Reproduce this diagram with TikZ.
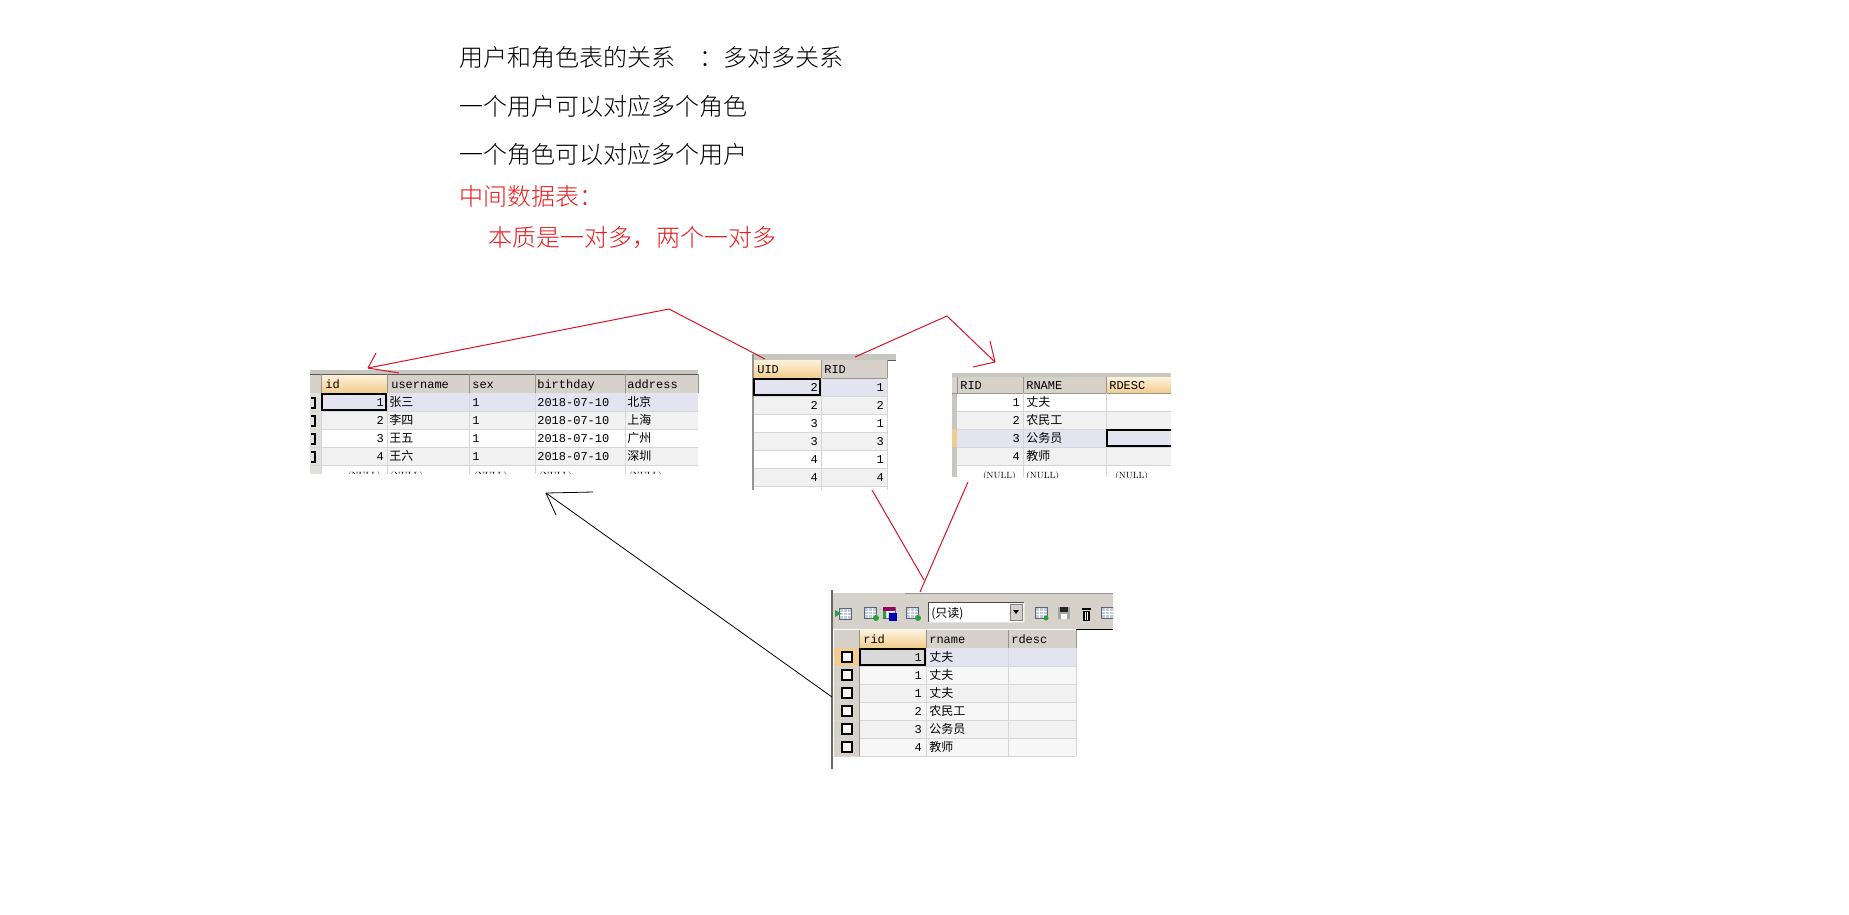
\documentclass[tikz,border=0pt]{standalone}
\usepackage{fontspec}
\setmonofont{Liberation Mono}
\newfontfamily\cjk{Noto Sans CJK SC}
\newfontfamily\cjklight{Noto Sans CJK SC}[UprightFont=* Light]

\definecolor{hdrgray}{RGB}{214,210,202}
\definecolor{bandgray}{RGB}{200,198,192}
\definecolor{hdrline}{RGB}{150,148,142}
\definecolor{gridline}{RGB}{214,214,214}
\definecolor{rowgray}{RGB}{241,241,241}
\definecolor{rowlight}{RGB}{247,247,247}
\definecolor{rowlav}{RGB}{228,228,240}
\definecolor{markgray}{RGB}{226,224,220}
\definecolor{sortlight}{RGB}{253,242,220}
\definecolor{sortdark}{RGB}{242,204,140}
\definecolor{notered}{RGB}{232,28,30}
\definecolor{linkred}{RGB}{215,20,40}
\definecolor{icongray}{RGB}{150,170,200}
\definecolor{icongreen}{RGB}{40,160,60}

\tikzset{
  title/.style={anchor=base west, inner sep=0pt, font=\cjklight\fontsize{24}{24}\selectfont},
  celltxt/.style={anchor=base west, inner sep=0pt, font=\ttfamily\fontsize{12}{12}\selectfont},
  cellnum/.style={anchor=base east, inner sep=0pt, font=\ttfamily\fontsize{12}{12}\selectfont},
  cjktxt/.style={anchor=base west, inner sep=0pt, font=\cjk\fontsize{12}{12}\selectfont},
  nulltxt/.style={anchor=base west, inner sep=0pt, font=\rmfamily\fontsize{9}{9}\selectfont},
  sorthdr/.style={top color=sortlight, bottom color=sortdark},
  selbox/.style={draw=black, line width=2pt},
  link/.style={draw=linkred, line width=1pt},
  pointer/.style={draw=black, line width=0.8pt}
}

% small table icon of the toolbar, top left corner at (#1,#2)
\newcommand\gridicon[2]{%
  \fill[icongray!60] (#1,#2) rectangle ++(12,11);
  \draw[white, line width=0.6pt] (#1,#2+4) -- ++(12,0) (#1,#2+7.5) -- ++(12,0)
    (#1+4,#2) -- ++(0,11) (#1+8,#2) -- ++(0,11);
  \draw[icongray!60!black, line width=0.6pt] (#1,#2) rectangle ++(12,11);
}

\begin{document}
\begin{tikzpicture}[x=1pt, y=-1pt, line width=0.6pt]
  \useasboundingbox (0,0) rectangle (1849,914);
  \fill[white] (0,0) rectangle (1849,914);

  % notes
  \node[title] (t1) at (459,66) {用户和角色表的关系\hspace{24pt}：多对多关系};
  \node[title] (t2) at (459,115) {一个用户可以对应多个角色};
  \node[title] (t3) at (459,163) {一个角色可以对应多个用户};
  \node[title, text=notered] (t4) at (459,205) {中间数据表：};
  \node[title, text=notered] (t5) at (488,246) {本质是一对多，两个一对多};

  % user table
  \fill[bandgray] (310,370) rectangle (698,374);
  \fill[hdrgray] (310,374) rectangle (698,393);
  \fill[sorthdr] (321,374) rectangle (387,393);
  \draw[hdrline!60!black] (310,374) -- (698,374);
  \foreach \x in {321,387,469,535,625,698}
    \draw[hdrline] (\x,374) -- (\x,393);
  \draw[hdrline] (310,393) -- (698,393);
  \foreach \t/\x [count=\k] in {id/325,username/391,sex/472,birthday/537,address/627}
    \node[celltxt] (u-h\k) at (\x,388.5) {\t};
  \begin{scope}
    \clip (300,393) rectangle (700,473);
    \foreach \c [count=\k] in {rowlav,rowgray,white,rowgray,white}
      \fill[\c] (321,375+18*\k) rectangle (698,393+18*\k);
    \fill[markgray] (310,393) rectangle (321,483);
    \foreach \k in {1,...,5}
      \draw[gridline] (310,393+18*\k) -- (698,393+18*\k);
    \foreach \x in {321,387,469,535,625}
      \draw[gridline] (\x,393) -- (\x,483);
    \foreach \i/\n/\a [count=\k] in {1/张三/北京,2/李四/上海,3/王五/广州,4/王六/深圳} {
      \draw[line width=2.2pt] (311,380+18*\k) -- (315,380+18*\k)
        -- (315,390+18*\k) -- (311,390+18*\k);
      \node[cellnum] (u-id\k) at (384,388.5+18*\k) {\i};
      \node[cjktxt] (u-nm\k) at (389,388.5+18*\k) {\n};
      \node[celltxt] (u-sx\k) at (472,388.5+18*\k) {1};
      \node[celltxt] (u-bd\k) at (537,388.5+18*\k) {2018-07-10};
      \node[cjktxt] (u-ad\k) at (627,388.5+18*\k) {\a};
    }
    \node[nulltxt, anchor=base east] (u-n1) at (381,478.5) {(NULL)};
    \foreach \x [count=\k from 2] in {390,474,539,629}
      \node[nulltxt] (u-n\k) at (\x,478.5) {(NULL)};
  \end{scope}
  \draw[selbox] (322,394) rectangle (386,410);

  % user_role table
  \fill[bandgray] (753,354) rectangle (896,360);
  \draw[hdrline!60!black] (753,360) -- (896,360);
  \fill[sorthdr] (753,360) rectangle (821,378);
  \fill[hdrgray] (821,360) rectangle (887,378);
  \node[celltxt] (l-h1) at (757,373.5) {UID};
  \node[celltxt] (l-h2) at (824,373.5) {RID};
  \foreach \c [count=\k] in {rowlav,rowgray,white,rowgray,white,rowgray}
    \fill[\c] (753,360+18*\k) rectangle (887,378+18*\k);
  \draw[hdrline] (753,378) -- (887,378);
  \foreach \k in {1,...,6}
    \draw[gridline] (753,378+18*\k) -- (887,378+18*\k);
  \draw[gridline] (821,378) -- (821,490) (887,378) -- (887,490);
  \draw[hdrline] (821,360) -- (821,378) (887,360) -- (887,378);
  \draw[hdrline, line width=1.2pt] (753,354) -- (753,490);
  \foreach \u/\r [count=\k] in {2/1,2/2,3/1,3/3,4/1,4/4} {
    \node[cellnum] (l-u\k) at (818,373.5+18*\k) {\u};
    \node[cellnum] (l-r\k) at (884,373.5+18*\k) {\r};
  }
  \draw[selbox] (754,379) rectangle (820,395);

  % role table
  \begin{scope}
    \clip (950,370) rectangle (1171,477);
    \fill[bandgray] (952,373) rectangle (1171,377);
    \draw[hdrline!60!black] (952,377) -- (1171,377);
    \fill[hdrgray] (952,377) rectangle (1106,393);
    \fill[sorthdr] (1106,377) rectangle (1171,393);
    \foreach \x in {957,1023,1106}
      \draw[hdrline] (\x,377) -- (\x,393);
    \node[celltxt] (r-h1) at (960,389.5) {RID};
    \node[celltxt] (r-h2) at (1026,389.5) {RNAME};
    \node[celltxt] (r-h3) at (1109,389.5) {RDESC};
    \foreach \c [count=\k] in {white,rowgray,rowlav,rowgray,white}
      \fill[\c] (957,375+18*\k) rectangle (1171,393+18*\k);
    \fill[bandgray] (952,393) rectangle (957,477);
    \fill[sortdark] (952,429) rectangle (957,447);
    \draw[hdrline] (952,393) -- (1171,393);
    \foreach \k in {1,...,4}
      \draw[gridline] (957,393+18*\k) -- (1171,393+18*\k);
    \draw[gridline] (1023,393) -- (1023,477) (1106,393) -- (1106,477);
    \foreach \i/\n [count=\k] in {1/丈夫,2/农民工,3/公务员,4/教师} {
      \node[cellnum] (r-id\k) at (1020,388.5+18*\k) {\i};
      \node[cjktxt] (r-nm\k) at (1026,388.5+18*\k) {\n};
    }
    \node[nulltxt, anchor=base east] (r-n1) at (1016,478.5) {(NULL)};
    \node[nulltxt] (r-n2) at (1026,478.5) {(NULL)};
    \node[nulltxt] (r-n3) at (1115,478.5) {(NULL)};
    \draw[selbox] (1107,430) rectangle (1180,446);
  \end{scope}

  % query result
  \draw[hdrline!70!black, line width=1.5pt] (832,590) -- (832,769);
  \fill[hdrgray] (833,593) rectangle (1113,629);
  \draw[hdrline] (905,593) -- (1113,593);
  \draw[black] (1076,629) -- (1113,629);
  \begin{scope}
    \clip (833,593) rectangle (1113,629);
    \gridicon{839}{608}
    \fill[icongreen] (835,610) -- (841,613.5) -- (835,617) -- cycle;
    \gridicon{864}{607}
    \fill[icongreen] (876,618) circle (3);
    \gridicon{883}{607}
    \fill[red!60!blue] (883,607) rectangle (895,611);
    \fill[icongreen] (883,611) rectangle (886,618);
    \fill[blue!70!black] (889,613) rectangle (897,621);
    \gridicon{906}{607}
    \fill[icongreen] (918,618) circle (3);
    % read only box
    \fill[white] (928,602) rectangle (1024,622);
    \draw[gray!60!black] (928,622) -- (928,602) -- (1024,602);
    \draw[gray!20] (928,622) -- (1024,622) -- (1024,602);
    \node[cjktxt] (ro) at (931,617) {(只读)};
    \fill[hdrgray] (1010,604) rectangle (1022,620);
    \draw[gray] (1010,604) rectangle (1022,620);
    \fill[black] (1013,610) -- (1019,610) -- (1016,614) -- cycle;
    \gridicon{1035}{607}
    \fill[icongreen] (1046,618) circle (2.5);
    \fill[gray!70] (1058,607) rectangle (1070,619);
    \fill[gray!30!black] (1060,607) rectangle (1068,612);
    \fill[white] (1061,614) rectangle (1067,619);
    \fill[black] (1082,608) rectangle (1091,610);
    \fill[black] (1083,611) rectangle (1090,621);
    \draw[white, line width=0.6pt] (1085.5,612) -- (1085.5,620) (1087.5,612) -- (1087.5,620);
    \gridicon{1101}{607}
  \end{scope}
  \fill[hdrgray] (834,630) rectangle (1076,648);
  \fill[sorthdr] (859,630) rectangle (926,648);
  \foreach \x in {859,926,1008,1076}
    \draw[hdrline] (\x,630) -- (\x,648);
  \draw[hdrline] (834,648) -- (1076,648);
  \node[celltxt] (q-h1) at (863,643.5) {rid};
  \node[celltxt] (q-h2) at (929,643.5) {rname};
  \node[celltxt] (q-h3) at (1011,643.5) {rdesc};
  \foreach \c [count=\k] in {rowlav,rowlight,rowgray,rowlight,rowgray,rowlight}
    \fill[\c] (859,630+18*\k) rectangle (1076,648+18*\k);
  \fill[rowgray!90!black] (859,648) rectangle (926,666);
  \fill[hdrgray] (834,648) rectangle (859,756);
  \fill[sortdark] (834,648) rectangle (859,666);
  \foreach \k in {1,...,6} {
    \draw[gridline] (834,648+18*\k) -- (1076,648+18*\k);
    \draw[fill=white, line width=1.8pt] (842,634+18*\k) rectangle (852,644+18*\k);
  }
  \foreach \x in {926,1008,1076}
    \draw[gridline] (\x,648) -- (\x,756);
  \draw[hdrline] (859,648) -- (859,756);
  \foreach \i/\n [count=\k] in {1/丈夫,1/丈夫,1/丈夫,2/农民工,3/公务员,4/教师} {
    \node[cellnum] (q-id\k) at (922,643.5+18*\k) {\i};
    \node[cjktxt] (q-nm\k) at (929,643.5+18*\k) {\n};
  }
  \draw[selbox] (860,649) rectangle (925,665);

  % links
  \coordinate (uidtop) at (765,359);
  \coordinate (bendA) at (669,309);
  \coordinate (usrtip) at (368,368);
  \coordinate (ridtop) at (855,357);
  \coordinate (bendB) at (947,316);
  \coordinate (roletip) at (995,362);
  \coordinate (uidbot) at (872,490);
  \coordinate (meet) at (924,580);
  \coordinate (ridbot) at (968,482);
  \coordinate (qtop) at (920,592);
  \coordinate (qleft) at (832,697);
  \coordinate (usrbot) at (546,493);

  \draw[link] (uidtop) -- (bendA) -- (usrtip);
  \draw[link] (usrtip) -- ++(8,-15) (usrtip) -- ++(31,5);
  \draw[link] (ridtop) -- (bendB) -- (roletip);
  \draw[link] (roletip) -- ++(-5,-21) (roletip) -- ++(-22,5);
  \draw[link] (uidbot) -- (meet);
  \draw[link] (ridbot) -- (qtop);
  \draw[pointer] (qleft) -- (usrbot);
  \draw[pointer] (usrbot) -- ++(47,-1) (usrbot) -- ++(10,22);
\end{tikzpicture}
\end{document}
